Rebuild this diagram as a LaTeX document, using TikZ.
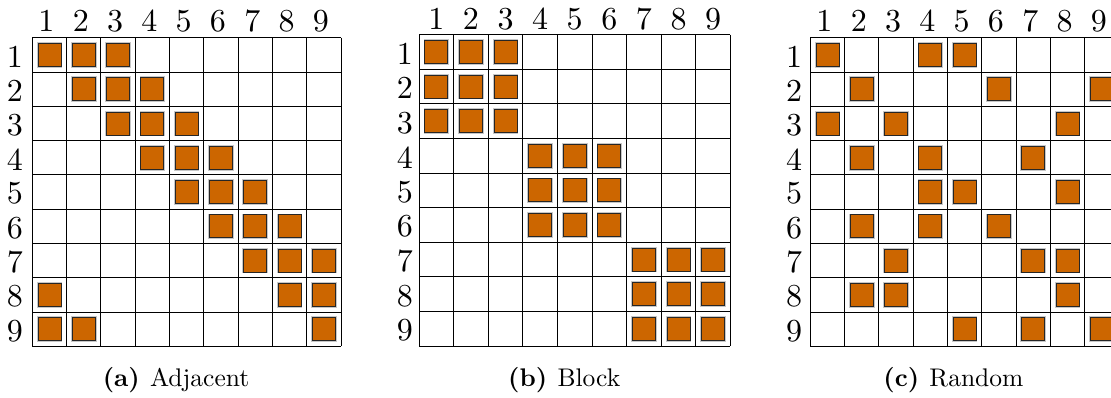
\documentclass[tikz,border=0pt]{standalone}
\usepackage{fontspec}
\setmainfont{lmroman10-regular.otf}[BoldFont=lmroman10-bold.otf]
\definecolor{sqorange}{RGB}{204,102,0}
\tikzset{
  gridline/.style={line width=0.9pt, black},
  cellsq/.style={draw=black!85, line width=0.9pt, fill=sqorange, minimum size=23pt, inner sep=0pt, outer sep=0pt, preaction={draw=black!22, line width=2.6pt}},
  lbl/.style={inner sep=0pt, font=\fontsize{32}{38}\selectfont},
  capnode/.style={inner sep=0pt, anchor=base, font=\fontsize{25.5}{30}\selectfont},
}
% #1 name, #2 x0, #3 y0, #4 cell, #5 list r/c, #6 row label east x, #7 col label x offset, #8 col label gap
\newcommand\drawmatrix[8]{%
  \foreach \i in {0,...,9} {
    \draw[gridline] (#2+\i*#4, #3) -- (#2+\i*#4, #3+9*#4);
    \draw[gridline] (#2, #3+\i*#4) -- (#2+9*#4, #3+\i*#4);
  }
  \foreach \k in {1,...,9} {
    \node[lbl, anchor=east] (#1-r\k) at (#6, #3+\k*#4-0.5*#4+1.5) {\k};
    \node[lbl, anchor=base] (#1-c\k) at (#2+\k*#4-0.5*#4+#7, #3-#8) {\k};
  }
  \foreach \r/\c in {#5} {
    \node[cellsq] (#1-\r-\c) at (#2+\c*#4-0.5*#4, #3+\r*#4-0.5*#4) {};
  }
}
\begin{document}
\begin{tikzpicture}[x=1pt, y=-1pt]
\fill[white] (0,0) rectangle (1111,397);
\useasboundingbox (0,0) rectangle (1111,397);

\drawmatrix{a}{32.3}{37.7}{34.3}{1/1,1/2,1/3,2/2,2/3,2/4,3/3,3/4,3/5,4/4,4/5,4/6,5/5,5/6,5/7,6/6,6/7,6/8,7/7,7/8,7/9,8/8,8/9,8/1,9/9,9/1,9/2}{23}{-3}{6}

\drawmatrix{b}{419}{34.7}{34.6}{1/1,1/2,1/3,2/1,2/2,2/3,3/1,3/2,3/3,4/4,4/5,4/6,5/4,5/5,5/6,6/4,6/5,6/6,7/7,7/8,7/9,8/7,8/8,8/9,9/7,9/8,9/9}{413}{0}{5.4}

\drawmatrix{c}{810.3}{37.7}{34.3}{1/1,1/4,1/5,2/2,2/6,2/9,3/1,3/3,3/8,4/2,4/4,4/7,5/4,5/5,5/8,6/2,6/4,6/6,7/3,7/7,7/8,8/2,8/3,8/8,9/5,9/7,9/9}{802.3}{-3}{6}

\node[capnode] (capa) at (176,386.7) {\textbf{(a)}\hspace{0.4em}Adjacent};
\node[capnode] (capb) at (564.2,386.7) {\textbf{(b)}\hspace{0.4em}Block};
\node[capnode] (capc) at (953.4,386.7) {\textbf{(c)}\hspace{0.4em}Random};
\end{tikzpicture}
\end{document}
